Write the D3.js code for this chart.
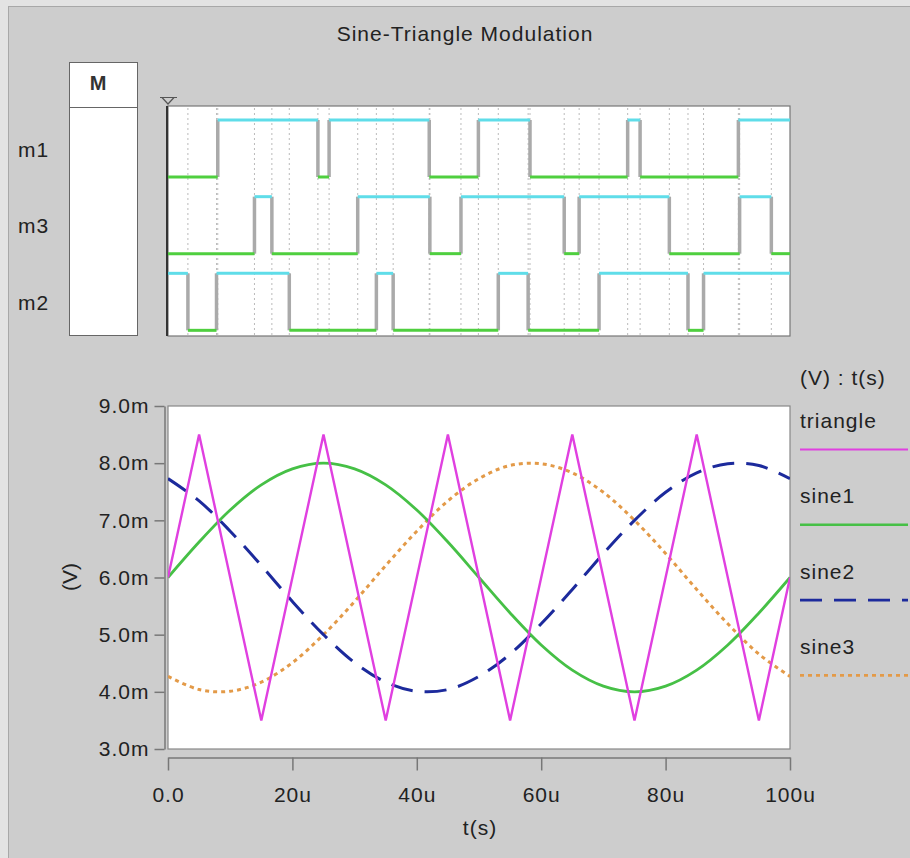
<!DOCTYPE html>
<html>
<head>
<meta charset="utf-8">
<script src="https://cdn.jsdelivr.net/npm/d3@7"></script>
<style>
html,body{margin:0;padding:0;background:#cdcdcd;}
svg{display:block;}
text{font-family:"Liberation Sans",Arial,Helvetica,sans-serif;fill:#222;}
</style>
</head>
<body>
<svg id="chart" width="910" height="858"></svg>
<script>
// ---------- data ----------
const title = "Sine-Triangle Modulation";
const tTicks = [0, 20, 40, 60, 80, 100];
const tTickLabels = ["0.0", "20u", "40u", "60u", "80u", "100u"];
const vTicks = [3, 4, 5, 6, 7, 8, 9];
const vTickLabels = ["3.0m", "4.0m", "5.0m", "6.0m", "7.0m", "8.0m", "9.0m"];

// triangle carrier (time in u, value in mV)
const triT = [0, 5, 15, 25, 35, 45, 55, 65, 75, 85, 95, 100];
const triV = [6.0, 8.5, 3.5, 8.5, 3.5, 8.5, 3.5, 8.5, 3.5, 8.5, 3.5, 6.0];

const sineT = [0, 5, 10, 15, 20, 25, 30, 35, 40, 45, 50, 55, 60, 65, 70, 75, 80, 85, 90, 95, 100];
const sine1 = [6.00, 6.62, 7.18, 7.62, 7.90, 8.00, 7.90, 7.62, 7.18, 6.62, 6.00, 5.38, 4.82, 4.38, 4.10, 4.00, 4.10, 4.38, 4.82, 5.38, 6.00];
const sine2 = [7.73, 7.34, 6.81, 6.21, 5.58, 5.00, 4.51, 4.17, 4.01, 4.04, 4.27, 4.66, 5.19, 5.79, 6.42, 7.00, 7.49, 7.83, 7.99, 7.96, 7.73];
const sine3 = [4.27, 4.04, 4.01, 4.17, 4.51, 5.00, 5.58, 6.21, 6.81, 7.34, 7.73, 7.96, 7.99, 7.83, 7.49, 7.00, 6.42, 5.79, 5.19, 4.66, 4.27];

const seriesNames = ["triangle", "sine1", "sine2", "sine3"];

// digital comparator outputs: initial level and edge times (u)
const digitalNames = ["m1", "m3", "m2"];
const m1Init = 0, m1Edges = [8.0, 24.1, 25.9, 42.0, 49.9, 58.2, 73.9, 75.9, 91.7];
const m3Init = 0, m3Edges = [13.9, 16.7, 30.5, 42.1, 47.1, 63.7, 66.1, 80.6, 91.9, 97.0];
const m2Init = 1, m2Edges = [3.2, 7.8, 19.5, 33.5, 36.2, 53.1, 57.9, 69.3, 83.6, 86.1];

// ---------- drawing ----------
const svg = d3.select("#chart");
const FONT = 21;

// outer frame
svg.append("rect").attr("x", 0).attr("y", 0).attr("width", 910).attr("height", 858).attr("fill", "#e3e3e3");
svg.append("rect").attr("x", 8.5).attr("y", 6.5).attr("width", 910).attr("height", 860)
  .attr("fill", "#cdcdcd").attr("stroke", "#a8a8a8").attr("stroke-width", 1);

svg.append("text").attr("x", 465).attr("y", 41).attr("text-anchor", "middle")
  .style("font-size", FONT + "px").style("letter-spacing", "1px").text(title);

const x = d3.scaleLinear().domain([0, 100]).range([168, 790]);

// ---------- digital panel ----------
const dTop = 106, dBot = 336;
svg.append("rect").attr("x", 69.5).attr("y", 62.5).attr("width", 68).attr("height", 273)
  .attr("fill", "#fff").attr("stroke", "#666");
svg.append("line").attr("x1", 69.5).attr("x2", 137.5).attr("y1", 107.5).attr("y2", 107.5).attr("stroke", "#666");
svg.append("text").attr("x", 98).attr("y", 90).attr("text-anchor", "middle")
  .style("font-size", "20px").style("font-weight", "bold").style("fill", "#333").text("M");

svg.append("rect").attr("x", 168).attr("y", dTop).attr("width", 622).attr("height", dBot - dTop)
  .attr("fill", "#fff").attr("stroke", "#777").attr("stroke-width", 1.2);
svg.append("line").attr("x1", 167).attr("x2", 167).attr("y1", dTop).attr("y2", dBot)
  .attr("stroke", "#333").attr("stroke-width", 2);
// cursor marker
svg.append("path").attr("d", "M160,97.5 L177,97.5 M162,97.5 L168,104 L174,97.5")
  .attr("fill", "none").attr("stroke", "#555").attr("stroke-width", 1.2);

const digital = [
  {name: "m1", init: m1Init, edges: m1Edges},
  {name: "m3", init: m3Init, edges: m3Edges},
  {name: "m2", init: m2Init, edges: m2Edges}
];
const levelY = d3.scaleBand().domain(digitalNames).range([dTop, dBot]);
const hiOff = 14, loOff = 71;

// dotted gridlines at every edge
const allEdges = [...m1Edges, ...m3Edges, ...m2Edges];
svg.append("g").selectAll("line").data(allEdges).join("line")
  .attr("x1", d => x(d)).attr("x2", d => x(d)).attr("y1", dTop + 2).attr("y2", dBot - 1)
  .attr("stroke", "#bbb").attr("stroke-width", 1).attr("stroke-dasharray", "2,3");

digital.forEach(sig => {
  const b = levelY(sig.name);
  const yHi = b + hiOff, yLo = b + loOff;
  const bounds = [0, ...sig.edges, 100];
  const g = svg.append("g");
  // transitions
  g.selectAll("line.tr").data(sig.edges).join("line").attr("class", "tr")
    .attr("x1", d => x(d)).attr("x2", d => x(d)).attr("y1", yHi).attr("y2", yLo)
    .attr("stroke", "#aaaaaa").attr("stroke-width", 3.5);
  // levels
  const segs = d3.range(bounds.length - 1).map(i => ({
    t0: bounds[i], t1: bounds[i + 1], lvl: (sig.init + i) % 2
  }));
  g.selectAll("line.lv").data(segs).join("line").attr("class", "lv")
    .attr("x1", d => x(d.t0)).attr("x2", d => x(d.t1))
    .attr("y1", d => d.lvl ? yHi : yLo).attr("y2", d => d.lvl ? yHi : yLo)
    .attr("stroke", d => d.lvl ? "#5fdde9" : "#4fcf3f").attr("stroke-width", 3);
  svg.append("text").attr("x", 18).attr("y", (yHi + yLo) / 2 + 8)
    .style("font-size", FONT + "px").style("letter-spacing", "1px").text(sig.name);
});

// ---------- analog panel ----------
const y = d3.scaleLinear().domain([3, 9]).range([749, 406]);
svg.append("rect").attr("x", 168).attr("y", 406).attr("width", 622).attr("height", 343)
  .attr("fill", "#fff").attr("stroke", "#888").attr("stroke-width", 1.2);

svg.append("clipPath").attr("id", "clip").append("rect")
  .attr("x", 168).attr("y", 406).attr("width", 622).attr("height", 343);

const yAxis = d3.axisLeft(y).tickValues(vTicks)
  .tickFormat((d, i) => vTickLabels[i]).tickSize(10).tickPadding(5).tickSizeOuter(0);
const gy = svg.append("g").attr("transform", "translate(164.5,0)").call(yAxis);
gy.selectAll("text").style("font-size", FONT + "px").style("letter-spacing", "1px").attr("fill", "#222");

const xAxis = d3.axisBottom(x).tickValues(tTicks)
  .tickFormat((d, i) => tTickLabels[i]).tickSize(13).tickPadding(17).tickSizeOuter(0);
const gx = svg.append("g").attr("transform", "translate(0,757.5)").call(xAxis);
gx.selectAll("text").style("font-size", FONT + "px").style("letter-spacing", "1px").attr("fill", "#222");

[gx, gy].forEach(g => {
  g.select(".domain").attr("stroke", "#777").attr("stroke-width", 1.5);
  g.selectAll(".tick line").attr("stroke", "#777").attr("stroke-width", 1.5);
});

svg.append("text").attr("transform", "translate(77,577) rotate(-90)").attr("text-anchor", "middle")
  .style("font-size", FONT + "px").text("(V)");
svg.append("text").attr("x", 480).attr("y", 835).attr("text-anchor", "middle")
  .style("font-size", FONT + "px").style("letter-spacing", "1px").text("t(s)");

const styles = {
  triangle: {color: "#e040e0", width: 2.4, dash: null},
  sine1: {color: "#46c046", width: 2.8, dash: null},
  sine2: {color: "#1c2a9c", width: 3, dash: "22,12"},
  sine3: {color: "#e39a48", width: 3, dash: "4,4"}
};

const line = d3.line().x(d => x(d[0])).y(d => y(d[1]));
const smooth = d3.line().x(d => x(d[0])).y(d => y(d[1])).curve(d3.curveCatmullRom);
const plot = svg.append("g").attr("clip-path", "url(#clip)");

const seriesData = {
  triangle: triT.map((t, i) => [t, triV[i]]),
  sine1: sineT.map((t, i) => [t, sine1[i]]),
  sine2: sineT.map((t, i) => [t, sine2[i]]),
  sine3: sineT.map((t, i) => [t, sine3[i]])
};

["sine3", "sine2", "sine1", "triangle"].forEach(n => {
  const s = styles[n];
  plot.append("path").datum(seriesData[n])
    .attr("d", n === "triangle" ? line : smooth)
    .attr("fill", "none").attr("stroke", s.color).attr("stroke-width", s.width)
    .attr("stroke-dasharray", s.dash).attr("stroke-linejoin", "miter");
});

// legend
svg.append("text").attr("x", 800).attr("y", 385)
  .style("font-size", FONT + "px").style("letter-spacing", "1px").text("(V) : t(s)");
const legTop = 428, legStep = 75.3;
seriesNames.forEach((n, i) => {
  const s = styles[n];
  const ty = legTop + i * legStep;
  svg.append("text").attr("x", 800).attr("y", ty)
    .style("font-size", FONT + "px").style("letter-spacing", "1px").text(n);
  svg.append("line").attr("x1", 800).attr("x2", 908).attr("y1", ty + 21.5).attr("y2", ty + 21.5)
    .attr("stroke", s.color).attr("stroke-width", n === "triangle" ? 2 : 2.6).attr("stroke-dasharray", s.dash);
});
</script>
</body>
</html>
